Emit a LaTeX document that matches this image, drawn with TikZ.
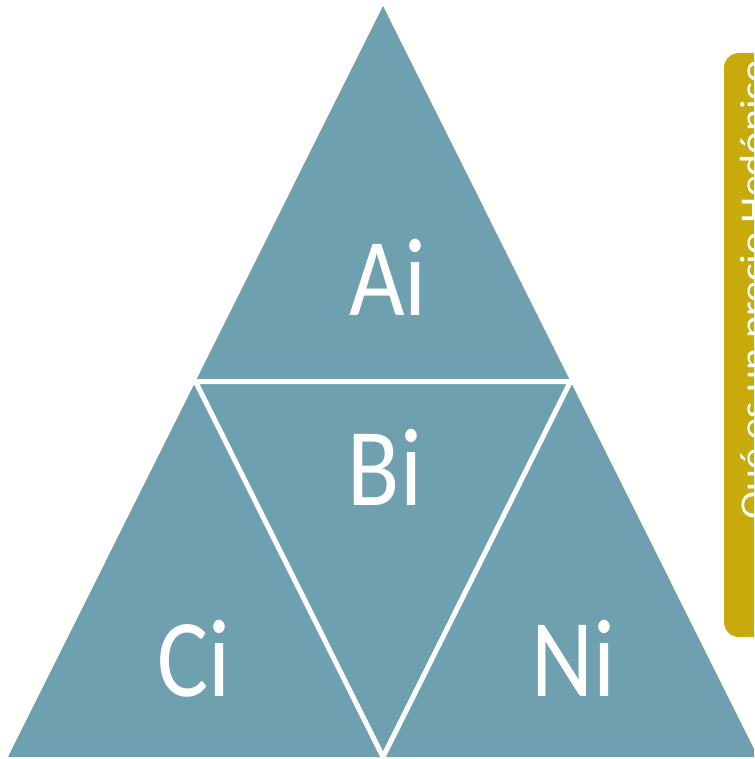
\documentclass[tikz,border=0pt]{standalone}
\usepackage{fontspec}
\setmainfont{Carlito}
\definecolor{teal1}{HTML}{6EA0B0}
\definecolor{gold1}{HTML}{C9AA0B}
\tikzset{
  seg/.style={fill=teal1, draw=none},
  divider/.style={draw=white, line width=5pt, line join=miter},
  bigtxt/.style={text=white, inner sep=0pt, anchor=base, font=\fontsize{96}{100}\selectfont},
  sidebox/.style={fill=gold1, draw=none, rounded corners=15pt},
  sidetxt/.style={text=white, inner sep=0pt, anchor=base west, rotate=90, font=\fontsize{36.3}{40}\selectfont}
}
\begin{document}
\begin{tikzpicture}[x=1pt,y=1pt]
\useasboundingbox (0,0) rectangle (754,-759);
\clip (0,0) rectangle (754,-759);
\coordinate (A) at (383,-6);
\coordinate (BL) at (8,-757);
\coordinate (BR) at (758,-757);
\coordinate (L) at (195.5,-381.5);
\coordinate (R) at (570.5,-381.5);
\coordinate (M) at (383,-757);
\fill[seg] (A) -- (BL) -- (BR) -- cycle;
\draw[divider] (L) -- (R) -- (M) -- cycle;
\node[bigtxt] (ai) at (388,-315) {\scalebox{1}[1.155]{Ai}};
\node[bigtxt] (bi) at (385,-505) {\scalebox{1}[1.155]{Bi}};
\node[bigtxt] (ci) at (194,-696) {\scalebox{1}[1.155]{Ci}};
\node[bigtxt] (ni) at (573,-696) {\scalebox{1}[1.155]{Ni}};
\fill[sidebox] (724,-53) rectangle (800,-637);
\node[sidetxt] (side) at (765,-520) {\scalebox{1.155}[1]{Qué es un precio Hedónico}};
\end{tikzpicture}
\end{document}
